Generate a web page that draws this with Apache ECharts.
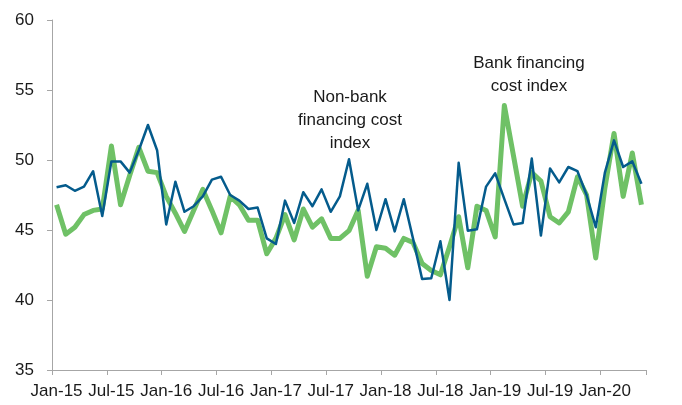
<!DOCTYPE html>
<html>
<head>
<meta charset="utf-8">
<script src="https://cdn.jsdelivr.net/npm/echarts@6/dist/echarts.min.js"></script>
<style>
html,body{margin:0;padding:0;background:#fff;}
#chart{width:682px;height:405px;}
</style>
</head>
<body>
<div id="chart"></div>
<script>
// Monthly categories Jan-15 .. May-20
var monthNames = ['Jan','Feb','Mar','Apr','May','Jun','Jul','Aug','Sep','Oct','Nov','Dec'];
var categories = [];
for (var y = 15; y <= 20; y++) {
  for (var m = 0; m < 12; m++) {
    if (y === 20 && m > 4) break;
    categories.push(monthNames[m] + '-' + y);
  }
}

// Bank financing cost index (green, thick)
var bankIndex = [
  46.8, 44.7, 45.2, 46.1, 46.4, 46.5, 51.0, 46.8, 48.9, 50.9, 49.2, 49.1,
  47.4, 46.2, 44.9, 46.4, 47.9, 46.4, 44.8, 47.4, 46.8, 45.7, 45.7, 43.3,
  44.4, 46.1, 44.3, 46.5, 45.2, 45.8, 44.4, 44.4, 44.95, 46.4, 41.7, 43.8,
  43.7, 43.2, 44.4, 44.1, 42.6, 42.1, 41.8, 43.8, 45.95, 42.3, 46.7, 46.4,
  44.5, 53.9, 50.3, 46.7, 49.1, 48.5, 45.95, 45.5, 46.3, 48.8, 47.5, 43.0,
  48.0, 51.9, 47.4, 50.5, 46.8
];

// Non-bank financing cost index (dark blue, thin)
var nonBankIndex = [
  48.05, 48.2, 47.8, 48.1, 49.2, 46.0, 49.9, 49.9, 49.1, 50.7, 52.5, 50.7,
  45.4, 48.45, 46.3, 46.7, 47.4, 48.6, 48.8, 47.5, 47.1, 46.5, 46.6, 44.4,
  44.0, 47.1, 45.5, 47.7, 46.7, 47.9, 46.3, 47.4, 50.05, 46.4, 48.3, 45.0,
  47.2, 44.9, 47.2, 44.4, 41.5, 41.55, 44.2, 40.0, 49.8, 44.95, 45.05, 48.1,
  49.05, 47.2, 45.4, 45.5, 50.1, 44.6, 49.4, 48.4, 49.5, 49.2, 47.5, 45.2,
  49.1, 51.4, 49.5, 49.9, 48.3
];

var yMin = 35, yMax = 60, yStep = 5;

var FONT = '"Liberation Sans", Arial, sans-serif';
var chart = echarts.init(document.getElementById('chart'), null, {renderer: 'canvas'});
chart.setOption({
  animation: false,
  backgroundColor: '#ffffff',
  grid: {left: 52, right: 36, top: 20, bottom: 35, containLabel: false},
  xAxis: {
    type: 'category',
    data: categories,
    boundaryGap: true,
    axisLine: {show: true, lineStyle: {color: '#a6a6a6', width: 1}},
    axisTick: {show: true, interval: 5, length: 5, inside: false, lineStyle: {color: '#a6a6a6'}},
    axisLabel: {interval: 5, color: '#1a1a1a', fontSize: 17, fontFamily: FONT, margin: 13},
    splitLine: {show: false}
  },
  yAxis: {
    type: 'value',
    min: yMin, max: yMax, interval: yStep,
    axisLine: {show: true, lineStyle: {color: '#a6a6a6', width: 1}},
    axisTick: {show: true, length: 5, inside: false, lineStyle: {color: '#a6a6a6'}},
    axisLabel: {color: '#1a1a1a', fontSize: 17, fontFamily: FONT, margin: 18},
    splitLine: {show: false}
  },
  series: [
    {
      name: 'Bank financing cost index',
      type: 'line',
      data: bankIndex,
      symbol: 'none',
      lineStyle: {color: '#6fc166', width: 5, join: 'round'},
      z: 2
    },
    {
      name: 'Non-bank financing cost index',
      type: 'line',
      data: nonBankIndex,
      symbol: 'none',
      lineStyle: {color: '#045b8c', width: 2.5, join: 'round'},
      z: 3
    }
  ],
  graphic: [
    {
      type: 'text',
      style: {
        text: 'Non-bank\nfinancing cost\nindex',
        x: 350, y: 120,
        textAlign: 'center', textVerticalAlign: 'middle',
        font: '17px ' + FONT, lineHeight: 23, fill: '#1a1a1a'
      }
    },
    {
      type: 'text',
      style: {
        text: 'Bank financing\ncost index',
        x: 529, y: 75,
        textAlign: 'center', textVerticalAlign: 'middle',
        font: '17px ' + FONT, lineHeight: 23, fill: '#1a1a1a'
      }
    }
  ]
});
</script>
</body>
</html>
